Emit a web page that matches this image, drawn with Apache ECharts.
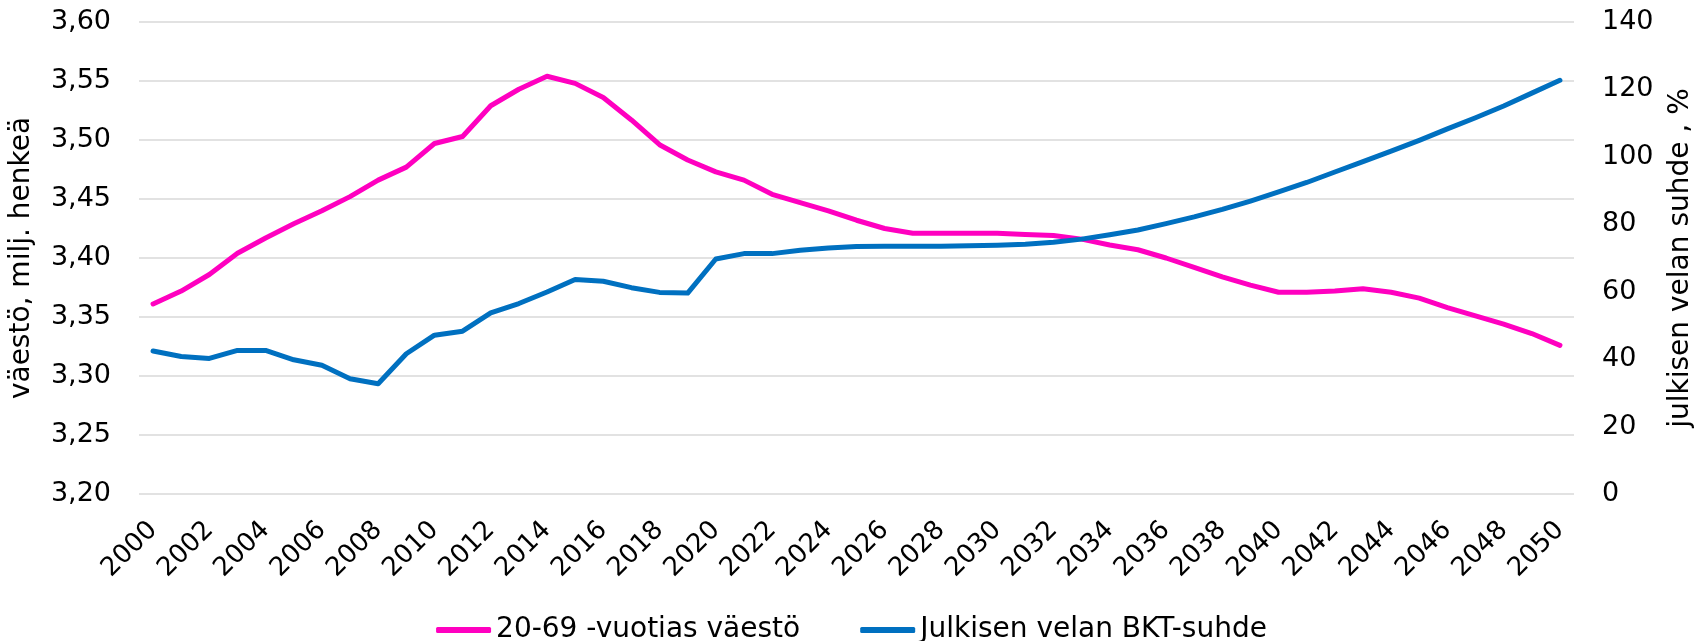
<!DOCTYPE html>
<html lang="fi">
<head>
    <meta charset="utf-8">
    <title>Väestö ja julkinen velka</title>
    <style>
        * { margin: 0; padding: 0; }
        #chart-container { width: 1703px; height: 641px; }
    </style>
</head>
<body>
    <div id="chart-container"></div>
    <script src="https://cdn.jsdelivr.net/npm/echarts@6/dist/echarts.min.js"></script>
    <script>
        // vuodet 2000-2050
        var years = [];
        for (var y = 2000; y <= 2050; y++) years.push(String(y));

        // 20-69 -vuotias väestö, milj.
        var population = [
            3.361, 3.372, 3.386, 3.404, 3.417, 3.429, 3.440, 3.452, 3.466, 3.477,
            3.497, 3.503, 3.529, 3.543, 3.554, 3.548, 3.536, 3.517, 3.496, 3.483,
            3.473, 3.466, 3.454, 3.447, 3.440, 3.432, 3.425, 3.421, 3.421, 3.421,
            3.421, 3.420, 3.419, 3.416, 3.411, 3.407, 3.400, 3.392, 3.384, 3.377,
            3.371, 3.371, 3.372, 3.374, 3.371, 3.366, 3.358, 3.351, 3.344, 3.336,
            3.326
        ];

        // julkisen velan BKT-suhde, %
        var debtRatio = [
            42.4, 40.8, 40.2, 42.6, 42.6, 39.8, 38.2, 34.2, 32.7, 41.6,
            47.1, 48.3, 53.7, 56.5, 59.9, 63.6, 63.1, 61.2, 59.8, 59.6,
            69.7, 71.3, 71.3, 72.3, 73.0, 73.4, 73.5, 73.5, 73.5, 73.6,
            73.8, 74.1, 74.7, 75.6, 76.9, 78.3, 80.2, 82.2, 84.4, 86.9,
            89.6, 92.4, 95.5, 98.6, 101.7, 104.9, 108.3, 111.6, 115.1, 118.9,
            122.7
        ];

        var dom = document.getElementById('chart-container');
        var myChart = echarts.init(dom, null, { renderer: 'canvas' });

        var font = 'DejaVu Sans';
        var option = {
            animation: false,
            textStyle: { fontFamily: font, color: '#000' },
            grid: {
                left: 139,
                right: 125,
                top: 22,
                bottom: 147
            },
            legend: {
                top: 611,
                left: 'center',
                icon: 'roundRect',
                itemWidth: 55,
                itemHeight: 6,
                itemGap: 60,
                textStyle: { fontFamily: font, fontSize: 28, color: '#000' },
                data: ['20-69 -vuotias väestö', 'Julkisen velan BKT-suhde']
            },
            xAxis: {
                type: 'category',
                data: years,
                axisLine: { show: false },
                axisTick: { show: false },
                axisLabel: {
                    interval: 1,
                    rotate: 45,
                    margin: 32,
                    fontFamily: font,
                    fontSize: 26,
                    color: '#000'
                }
            },
            yAxis: [
                {
                    type: 'value',
                    min: 3.2,
                    max: 3.6,
                    interval: 0.05,
                    name: 'väestö, milj. henkeä',
                    nameLocation: 'middle',
                    nameRotate: 90,
                    nameGap: 103,
                    nameTextStyle: { fontFamily: font, fontSize: 28, color: '#000' },
                    axisLabel: {
                        margin: 28,
                        fontFamily: font,
                        fontSize: 27,
                        color: '#000',
                        formatter: function (v) { return v.toFixed(2).replace('.', ','); }
                    },
                    splitLine: { lineStyle: { color: '#d9d9d9', width: 1.5 } }
                },
                {
                    type: 'value',
                    min: 0,
                    max: 140,
                    interval: 20,
                    name: 'julkisen velan suhde , %',
                    nameLocation: 'middle',
                    nameRotate: 90,
                    nameGap: 93,
                    nameTextStyle: { fontFamily: font, fontSize: 28, color: '#000' },
                    axisLabel: {
                        margin: 28,
                        fontFamily: font,
                        fontSize: 27,
                        color: '#000'
                    },
                    splitLine: { show: false }
                }
            ],
            series: [
                {
                    name: '20-69 -vuotias väestö',
                    type: 'line',
                    yAxisIndex: 0,
                    symbol: 'none',
                    data: population,
                    itemStyle: { color: '#ff00c0' },
                    lineStyle: { color: '#ff00c0', width: 5, cap: 'round', join: 'round' }
                },
                {
                    name: 'Julkisen velan BKT-suhde',
                    type: 'line',
                    yAxisIndex: 1,
                    symbol: 'none',
                    data: debtRatio,
                    itemStyle: { color: '#0070c0' },
                    lineStyle: { color: '#0070c0', width: 5, cap: 'round', join: 'round' }
                }
            ]
        };

        myChart.setOption(option);
        window.addEventListener('resize', myChart.resize);
    </script>
</body>
</html>
